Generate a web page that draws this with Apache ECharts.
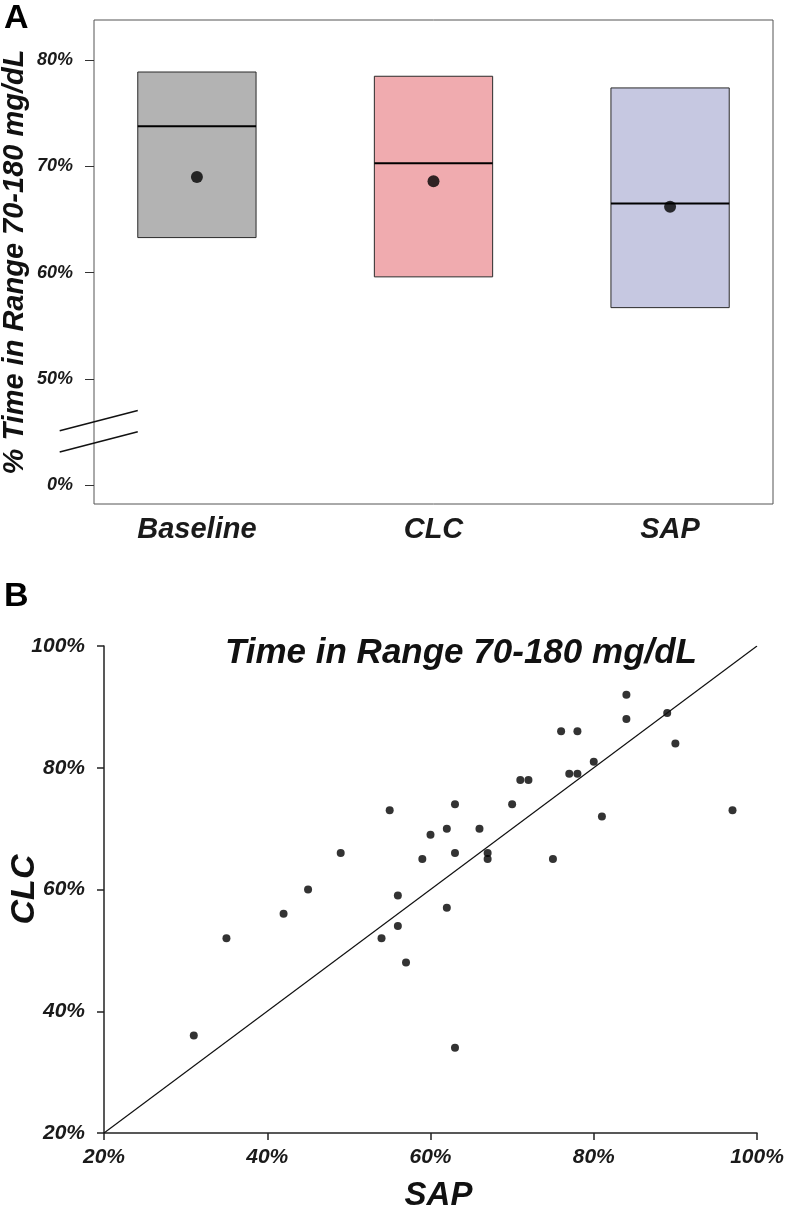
<!DOCTYPE html>
<html>
<head>
<meta charset="utf-8">
<script src="https://cdn.jsdelivr.net/npm/echarts@6/dist/echarts.min.js"></script>
<style>
  html, body { margin: 0; padding: 0; background: #fff; }
  #chart { width: 788px; height: 1210px; }
</style>
</head>
<body>
<div id="chart"></div>
<script>
// Panel A: box = interquartile range, line = median, dot = mean (% time 70-180 mg/dL)
const groups = ["Baseline", "CLC", "SAP"];
const q1 = [63.3, 59.6, 56.7];
const q3 = [78.9, 78.5, 77.4];
const medians = [73.8, 70.3, 66.5];
const means = [69.0, 68.6, 66.2];
// broken axis: the "0%" tick sits where 40 would be on the display scale
const yTicksA = [40, 50, 60, 70, 80];
const yTickLabelsA = ["0%", "50%", "60%", "70%", "80%"];

// Panel B: per-subject time in range, SAP (x) vs CLC (y)
const sap = [31, 35, 42, 45, 49, 54, 55, 56, 56, 57, 59, 60, 62, 62, 63, 63, 63, 66,
  67, 67, 70, 71, 72, 75, 76, 77, 78, 78, 80, 81, 84, 84, 89, 90, 97];
const clc = [36, 52, 56, 60, 66, 52, 73, 59, 54, 48, 65, 69, 70, 57, 74, 66, 34, 70,
  66, 65, 74, 78, 78, 65, 86, 79, 86, 79, 81, 72, 92, 88, 89, 84, 73];
const ticksB = [20, 40, 60, 80, 100];
const identity = [[20, 20], [100, 100]];

const boxColors = ["#b3b3b3", "#f0abaf", "#c6c8e1"];
const font = "Liberation Sans, Arial, sans-serif";
const textColor = "#1a1a1a";

const chart = echarts.init(document.getElementById("chart"));

const boxData = groups.map((g, i) => [i + 1, q1[i], q3[i], medians[i]]);
const meanData = groups.map((g, i) => [i + 1, means[i]]);
const scatterData = sap.map((x, i) => [x, clc[i]]);

const option = {
  animation: false,
  backgroundColor: "#fff",
  textStyle: { fontFamily: font },
  title: {
    text: "Time in Range 70-180 mg/dL",
    left: 220,
    top: 631,
    textStyle: { fontFamily: font, fontSize: 35, fontWeight: "bold", fontStyle: "italic", color: "#111" },
  },
  graphic: [
    { type: "text", left: 4, top: 2, style: { text: "A", fontFamily: font, fontSize: 34, fontWeight: "bold", fill: "#000" } },
    { type: "text", left: 4, top: 580, style: { text: "B", fontFamily: font, fontSize: 34, fontWeight: "bold", fill: "#000" } },
  ],
  grid: [
    { left: 94, top: 20, width: 679, height: 484, containLabel: false, outerBoundsMode: "none",
      show: true, borderColor: "#555", borderWidth: 1, backgroundColor: "transparent" },
    { left: 104, top: 646, right: 31, bottom: 77, containLabel: false, outerBoundsMode: "none" },
  ],
  xAxis: [
    {
      gridIndex: 0,
      type: "value",
      min: 0.565,
      max: 3.435,
      splitLine: { show: false },
      axisLine: { show: false },
      axisTick: { show: false },
      axisLabel: {
        customValues: [1, 2, 3],
        formatter: (v) => groups[Math.round(v) - 1],
        fontFamily: font, fontSize: 29, fontWeight: "bold", fontStyle: "italic", color: textColor,
        margin: 11,
      },
    },
    {
      gridIndex: 1,
      type: "value",
      min: 20,
      max: 100,
      interval: 20,
      splitLine: { show: false },
      axisLine: { show: true, onZero: false, lineStyle: { color: "#222", width: 1.5 } },
      axisTick: { show: true, length: 7, lineStyle: { color: "#222", width: 1.5 } },
      axisLabel: {
        formatter: "{value}%",
        fontFamily: font, fontSize: 21, fontWeight: "bold", fontStyle: "italic", color: textColor,
        margin: 14,
      },
      name: "SAP",
      nameLocation: "middle",
      nameGap: 46,
      nameMoveOverlap: false,
      nameTextStyle: { fontFamily: font, fontSize: 33, fontWeight: "bold", fontStyle: "italic", color: "#111",
        padding: [0, 0, 0, 16] },
    },
  ],
  yAxis: [
    {
      gridIndex: 0,
      type: "value",
      min: 38.2,
      max: 83.8,
      splitLine: { show: false },
      axisLine: { show: false },
      axisTick: { show: true, customValues: yTicksA, length: 9, lineStyle: { color: "#333", width: 1 } },
      axisLabel: {
        customValues: yTicksA,
        formatter: (v) => yTickLabelsA[yTicksA.indexOf(Math.round(v))],
        fontFamily: font, fontSize: 18, fontWeight: "bold", fontStyle: "italic", color: textColor,
        margin: 21,
      },
      name: "% Time in Range 70-180 mg/dL",
      nameLocation: "middle",
      nameRotate: 90,
      nameGap: 65,
      nameMoveOverlap: false,
      nameTextStyle: { fontFamily: font, fontSize: 29, fontWeight: "bold", fontStyle: "italic", color: "#111" },
    },
    {
      gridIndex: 1,
      type: "value",
      min: 20,
      max: 100,
      interval: 20,
      splitLine: { show: false },
      axisLine: { show: true, onZero: false, lineStyle: { color: "#222", width: 1.5 } },
      axisTick: { show: true, length: 7, lineStyle: { color: "#222", width: 1.5 } },
      axisLabel: {
        formatter: "{value}%",
        fontFamily: font, fontSize: 21, fontWeight: "bold", fontStyle: "italic", color: textColor,
        margin: 19,
      },
      name: "CLC",
      nameLocation: "middle",
      nameRotate: 90,
      nameGap: 62,
      nameMoveOverlap: false,
      nameTextStyle: { fontFamily: font, fontSize: 34, fontWeight: "bold", fontStyle: "italic", color: "#111" },
    },
  ],
  series: [
    {
      // IQR boxes with median line
      type: "custom",
      xAxisIndex: 0,
      yAxisIndex: 0,
      data: boxData,
      renderItem: (params, api) => {
        const x = api.value(0);
        const halfW = 0.25;
        const tl = api.coord([x - halfW, api.value(2)]);
        const br = api.coord([x + halfW, api.value(1)]);
        const ml = api.coord([x - halfW, api.value(3)]);
        const mr = api.coord([x + halfW, api.value(3)]);
        return {
          type: "group",
          children: [
            {
              type: "rect",
              shape: { x: tl[0], y: tl[1], width: br[0] - tl[0], height: br[1] - tl[1] },
              style: { fill: boxColors[params.dataIndex], stroke: "#2a2a2a", lineWidth: 1 },
            },
            {
              type: "line",
              shape: { x1: ml[0], y1: ml[1], x2: mr[0], y2: mr[1] },
              style: { stroke: "#000", lineWidth: 2 },
            },
          ],
        };
      },
      z: 2,
    },
    {
      // axis-break marks crossing the left axis
      type: "custom",
      xAxisIndex: 0,
      yAxisIndex: 0,
      clip: false,
      data: [[0.42, 45.1, 0.75, 47.0], [0.42, 43.1, 0.75, 45.0]],
      renderItem: (params, api) => {
        const a = api.coord([api.value(0), api.value(1)]);
        const b = api.coord([api.value(2), api.value(3)]);
        return {
          type: "line",
          shape: { x1: a[0], y1: a[1], x2: b[0], y2: b[1] },
          style: { stroke: "#111", lineWidth: 1.5 },
        };
      },
      z: 3,
    },
    {
      type: "scatter",
      xAxisIndex: 0,
      yAxisIndex: 0,
      data: meanData,
      symbol: "circle",
      symbolSize: 12,
      itemStyle: { color: "#000" },
      z: 4,
    },
    {
      type: "line",
      xAxisIndex: 1,
      yAxisIndex: 1,
      data: identity,
      showSymbol: false,
      symbol: "none",
      lineStyle: { color: "#111", width: 1.2 },
    },
    {
      type: "scatter",
      xAxisIndex: 1,
      yAxisIndex: 1,
      data: scatterData,
      symbol: "circle",
      symbolSize: 8,
      itemStyle: { color: "#000" },
    },
  ],
};

chart.setOption(option);
</script>
</body>
</html>
